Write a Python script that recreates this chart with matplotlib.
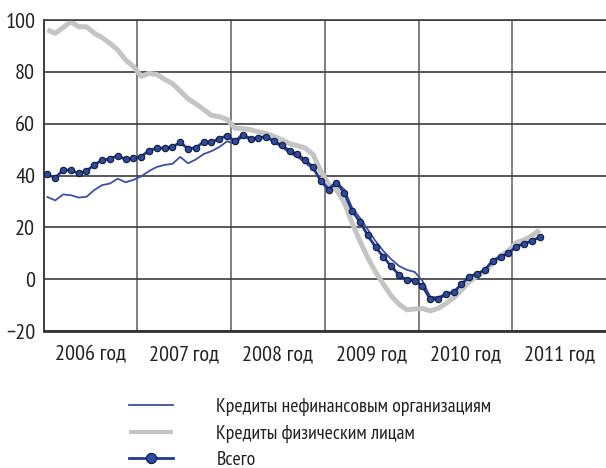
import numpy as np
import matplotlib
matplotlib.use("Agg")
import matplotlib.pyplot as plt
from matplotlib.ticker import FixedLocator, NullFormatter, FixedFormatter

plt.rcParams['font.family'] = ['PT Sans Narrow', 'DejaVu Sans']

# ── data (monthly, Jan 2006 – Apr 2011, % y/y) ─────────────────────────────
start_year = 2006
year_labels = ["2006 год", "2007 год", "2008 год", "2009 год", "2010 год", "2011 год"]

corporate = [
    31.7, 30.4, 32.7, 32.4, 31.5, 31.8, 34.4, 36.3, 36.9, 38.8, 37.4, 38.3,
    39.7, 41.7, 43.3, 44.1, 44.5, 47.2, 44.7, 46.2, 48.3, 49.4, 51.0, 53.2,
    52.3, 55.1, 53.8, 54.4, 54.9, 52.8, 51.0, 48.7, 47.2, 44.9, 42.6, 38.2,
    35.1, 37.6, 34.6, 27.6, 23.7, 19.2, 14.7, 10.9, 7.7, 5.1, 3.6, 2.8,
    -0.6, -6.8, -7.0, -5.5, -4.8, -2.0, 1.0, 2.0, 3.5, 7.0, 8.5, 10.0,
    12.5, 13.6, 14.6, 16.2,
]
households = [
    96.2, 94.9, 97.1, 99.4, 97.4, 97.4, 94.9, 93.2, 91.0, 88.5, 84.6, 82.1,
    78.3, 79.4, 79.0, 77.1, 75.5, 72.6, 69.6, 67.7, 65.5, 63.2, 62.7, 61.7,
    58.3, 58.1, 57.7, 56.8, 56.2, 55.1, 53.8, 52.3, 51.5, 50.6, 48.1, 41.7,
    36.5, 34.6, 29.5, 21.8, 14.7, 8.3, 2.8, -1.9, -6.4, -9.6, -11.8, -11.5,
    -11.3, -12.2, -11.3, -9.4, -7.2, -4.2, -1.0, 1.3, 2.9, 6.2, 9.0, 10.9,
    14.1, 15.1, 16.7, 19.0,
]
total = [
    40.4, 39.1, 42.1, 42.1, 40.8, 41.7, 44.2, 45.9, 46.4, 47.7, 46.2, 46.7,
    47.3, 49.6, 50.6, 50.6, 51.0, 52.8, 50.3, 50.8, 52.9, 52.9, 54.2, 55.4,
    53.2, 55.8, 54.2, 54.6, 55.0, 53.2, 51.7, 49.5, 48.2, 45.9, 43.3, 37.8,
    34.6, 37.2, 33.3, 26.3, 22.2, 16.9, 12.4, 8.7, 4.9, 1.8, -0.5, -0.6,
    -2.6, -7.7, -7.7, -5.9, -5.1, -1.9, 1.0, 2.1, 3.6, 7.2, 8.6, 10.0,
    12.6, 13.7, 14.7, 16.3,
]

labels = ["Кредиты нефинансовым организациям",
          "Кредиты физическим лицам",
          "Всего"]

# months plotted at mid-month
x = start_year + (np.arange(len(total)) + 0.5) / 12

# ── figure ──────────────────────────────────────────────────────────────────
fig = plt.figure(figsize=(6.06, 4.68), dpi=100)
ax = fig.add_axes([0.0718, 0.2927, 0.9282, 0.6645])

l_hh, = ax.plot(x, households, color='#c4c4c4', lw=3.6, zorder=2,
                solid_capstyle='butt')
l_corp, = ax.plot(x, corporate, color='#3d50a6', lw=1.3, zorder=3)
l_tot, = ax.plot(x, total, color='#1f3a93', lw=2.0, zorder=4,
                 marker='o', ms=4.6, mfc='#2c4a9f', mec='#141a38', mew=0.8)

ax.set_xlim(start_year, start_year + 6)
ax.set_ylim(-20, 100)

ax.xaxis.set_major_locator(FixedLocator(np.arange(start_year + 1, start_year + 6)))
ax.xaxis.set_major_formatter(NullFormatter())
ax.xaxis.set_minor_locator(FixedLocator(np.arange(start_year, start_year + 6) + 0.5))
ax.xaxis.set_minor_formatter(FixedFormatter(year_labels))
ax.set_yticks(np.arange(-20, 101, 20))

ax.tick_params(axis='x', which='both', length=0)
ax.tick_params(axis='x', which='minor', pad=10, labelsize=16, colors='#222222')
ax.tick_params(axis='y', length=0, pad=6, labelsize=16, colors='#222222')

ax.grid(axis='y', color='#3c3c3c', lw=1.2, zorder=1)
ax.grid(axis='x', which='major', color='#6a6a6a', lw=1.2, zorder=1)
ax.set_axisbelow(True)

ax.spines['right'].set_visible(False)
ax.spines['top'].set_color('#3c3c3c')
ax.spines['top'].set_linewidth(1.2)
ax.spines['left'].set_color('#3c3c3c')
ax.spines['left'].set_linewidth(1.4)
ax.spines['bottom'].set_color('#333333')
ax.spines['bottom'].set_linewidth(2.0)

leg = fig.legend([l_corp, l_hh, l_tot], labels,
                 loc='upper left', bbox_to_anchor=(129 / 606, 1 - 398 / 468),
                 frameon=False, fontsize=14.3, borderpad=0, borderaxespad=0,
                 handlelength=2.2, handletextpad=2.2, labelspacing=0.43,
                 markerscale=1.6, labelcolor='#222222')
leg.get_lines()[1].set_linewidth(3.0)

fig.savefig("out.png", dpi=100)
